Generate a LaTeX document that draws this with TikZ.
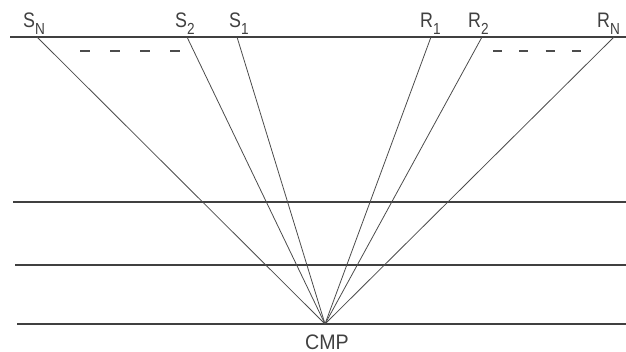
\documentclass[tikz,border=0pt]{standalone}
\usepackage{fontspec}
\setmainfont{Liberation Sans}
\newcommand{\subl}[1]{\raisebox{-0.6ex}{\fontsize{16}{16}\selectfont #1}}
\begin{document}
\begin{tikzpicture}[x=1pt,y=-1pt,
  layer/.style={draw=black!75,line width=1.3pt},
  surface/.style={draw=black!75,line width=1.8pt},
  ray/.style={draw=black!70,line width=0.8pt},
  gap/.style={draw=black!70,line width=1.5pt},
  lbl/.style={inner sep=0pt,anchor=base west,text=black!75,font=\fontsize{21}{21}\selectfont,xscale=0.85}]
\useasboundingbox (0,0) rectangle (626,352);
% surface and layers
\coordinate (tl) at (10,37);   \coordinate (tr) at (626,37);
\coordinate (l1a) at (13,202); \coordinate (l1b) at (626,202);
\coordinate (l2a) at (15,265); \coordinate (l2b) at (626,265);
\coordinate (l3a) at (17,324); \coordinate (l3b) at (626,324);
\draw[surface] (tl) -- (tr);
\draw[layer] (l1a) -- (l1b);
\draw[layer] (l2a) -- (l2b);
\draw[layer] (l3a) -- (l3b);
% shot and receiver points
\coordinate (sN) at (37,37);
\coordinate (s2) at (187,37);
\coordinate (s1) at (237,37);
\coordinate (r1) at (431,37);
\coordinate (r2) at (482,37);
\coordinate (rN) at (614,37);
\coordinate (cmp) at (325,324);
\foreach \p in {sN,s2,s1,r1,r2,rN} \draw[ray] (\p) -- (cmp);
% dashes
\coordinate (dla) at (80,51);  \coordinate (dlb) at (180,51);
\coordinate (dra) at (493,51); \coordinate (drb) at (581,51);
\draw[gap,dash pattern=on 10pt off 20pt] (dla) -- (dlb);
\draw[gap,dash pattern=on 9pt off 17.33pt] (dra) -- (drb);
% labels
\node[lbl] (tSN) at (23,28) {S\subl{N}};
\node[lbl] (tS2) at (175,28) {S\subl{2}};
\node[lbl] (tS1) at (229,28) {S\subl{1}};
\node[lbl] (tR1) at (420,28) {R\subl{1}};
\node[lbl] (tR2) at (468,28) {R\subl{2}};
\node[lbl] (tRN) at (597,28) {R\subl{N}};
\node[lbl,xscale=1.1] (tCMP) at (305,349) {CMP};
\end{tikzpicture}
\end{document}
